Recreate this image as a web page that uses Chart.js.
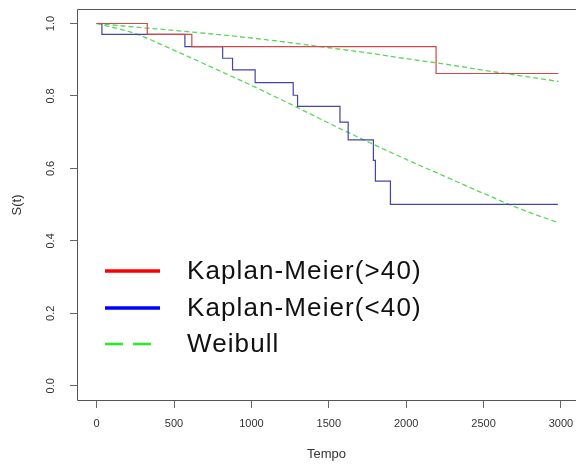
<!DOCTYPE html>
<html>
<head>
<meta charset="utf-8">
<script src="https://cdn.jsdelivr.net/npm/chart.js@4"></script>
<style>
html,body{margin:0;padding:0;background:#fff;}
#wrap{width:576px;height:464px;position:relative;}
</style>
</head>
<body>
<div id="wrap"><canvas id="c" width="576" height="464"></canvas></div>
<script>
// Kaplan-Meier (>40): event times and survival after each event
const kmOldT = [0, 327, 615, 2193, 2983];
const kmOldS = [1.0, 0.970, 0.936, 0.862, 0.862];
// Kaplan-Meier (<40)
const kmYoungT = [0, 34, 570, 814, 878, 1024, 1270, 1298, 1572, 1625, 1788, 1801, 1898, 2980];
const kmYoungS = [1.0, 0.970, 0.936, 0.904, 0.872, 0.837, 0.802, 0.771, 0.728, 0.679, 0.622, 0.565, 0.501, 0.501];
// Weibull fitted curves
const weibT = [0, 250, 500, 750, 1000, 1250, 1500, 1750, 2000, 2250, 2500, 2750, 2985];
const weibOldS = [1.0, 0.990, 0.981, 0.971, 0.960, 0.947, 0.933, 0.919, 0.903, 0.888, 0.871, 0.855, 0.840];
const weibYoungS = [1.0, 0.972, 0.926, 0.878, 0.829, 0.778, 0.725, 0.674, 0.625, 0.578, 0.531, 0.486, 0.450];
// ticks
const xTicks = [0, 500, 1000, 1500, 2000, 2500, 3000];
const xTickLabels = ['0', '500', '1000', '1500', '2000', '2500', '3000'];
const yTicks = [0, 0.2, 0.4, 0.6, 0.8, 1.0];
const yTickLabels = ['0.0', '0.2', '0.4', '0.6', '0.8', '1.0'];
const legendLabels = ['Kaplan-Meier(>40)', 'Kaplan-Meier(<40)', 'Weibull'];
const xTitle = 'Tempo';
const yTitle = 'S(t)';

const pts = (t, s) => t.map((v, i) => ({x: v, y: s[i]}));
const FONT = '"Liberation Sans", Arial, sans-serif';

const boxPlugin = {
  id: 'rbox',
  afterDraw(chart) {
    const {ctx, chartArea: a} = chart;
    ctx.save();
    ctx.strokeStyle = '#555';
    ctx.lineWidth = 1;
    const l = Math.round(a.left) + 0.5, t = Math.round(a.top) + 0.5, b = Math.round(a.bottom) - 0.5;
    ctx.beginPath();
    ctx.moveTo(a.right + 5, t);
    ctx.lineTo(l, t);
    ctx.lineTo(l, b);
    ctx.lineTo(a.right + 5, b);
    ctx.stroke();
    // legend
    const x0 = 105, x1 = 160, tx = 187;
    const rows = [
      {y: 271, color: '#ff0000', dash: [], w: 3.5},
      {y: 308, color: '#0000ff', dash: [], w: 3.5},
      {y: 344, color: '#22ee22', dash: [18, 10], w: 2.5}
    ];
    ctx.font = '26px ' + FONT;
    try { ctx.letterSpacing = '1.1px'; } catch (e) {}
    ctx.textBaseline = 'middle';
    ctx.fillStyle = '#111';
    rows.forEach((r, i) => {
      ctx.beginPath();
      ctx.setLineDash(r.dash);
      ctx.lineWidth = r.w;
      ctx.strokeStyle = r.color;
      ctx.lineCap = 'butt';
      ctx.moveTo(x0, r.y);
      ctx.lineTo(x1, r.y);
      ctx.stroke();
      ctx.fillText(legendLabels[i], tx, r.y + 1);
    });
    ctx.restore();
  }
};

new Chart(document.getElementById('c'), {
  type: 'line',
  data: {
    datasets: [
      {label: legendLabels[0], data: pts(kmOldT, kmOldS), stepped: 'before', borderColor: '#d04848', borderWidth: 1.2, pointRadius: 0, fill: false},
      {label: legendLabels[1], data: pts(kmYoungT, kmYoungS), stepped: 'before', borderColor: '#4444a8', borderWidth: 1.2, pointRadius: 0, fill: false},
      {label: legendLabels[2], data: pts(weibT, weibOldS), borderColor: '#5ad85a', borderDash: [5, 3], borderWidth: 1.3, pointRadius: 0, cubicInterpolationMode: 'monotone', fill: false},
      {label: legendLabels[2] + ' 2', data: pts(weibT, weibYoungS), borderColor: '#5ad85a', borderDash: [5, 3], borderWidth: 1.3, pointRadius: 0, cubicInterpolationMode: 'monotone', fill: false}
    ]
  },
  options: {
    responsive: false,
    animation: false,
    layout: {padding: {top: 9, right: 0, left: 0, bottom: 0}},
    plugins: {legend: {display: false}, tooltip: {enabled: false}},
    scales: {
      x: {
        type: 'linear', min: -127, max: 3097,
        afterBuildTicks: s => { s.ticks = xTicks.map(v => ({value: v})); },
        afterFit: s => { s.height = 63; s.paddingLeft = 0; s.paddingRight = 0; },
        grid: {drawOnChartArea: false, drawTicks: true, tickLength: 7, color: '#666'},
        border: {display: false},
        ticks: {
          padding: 9, color: '#333', font: {family: FONT, size: 11}, maxRotation: 0, autoSkip: false,
          callback: (v) => { const i = xTicks.indexOf(v); return i >= 0 ? xTickLabels[i] : ''; }
        },
        title: {display: true, text: xTitle, color: '#333', font: {family: FONT, size: 13}, padding: 2}
      },
      y: {
        type: 'linear', min: -0.042, max: 1.04,
        afterBuildTicks: s => { s.ticks = yTicks.map(v => ({value: v})); },
        afterFit: s => { s.width = 77; s.paddingTop = 0; s.paddingBottom = 0; },
        grid: {drawOnChartArea: false, drawTicks: true, tickLength: 7, color: '#666'},
        border: {display: false},
        ticks: {
          padding: 11, color: '#333', minRotation: 90, maxRotation: 90, crossAlign: 'center',
          font: {family: FONT, size: 11}, autoSkip: false,
          callback: (v) => { const i = yTicks.findIndex(t => Math.abs(t - v) < 1e-9); return i >= 0 ? yTickLabels[i] : ''; }
        },
        title: {display: true, text: yTitle, color: '#333', font: {family: FONT, size: 13}, padding: 10}
      }
    }
  },
  plugins: [boxPlugin]
});
</script>
</body>
</html>
